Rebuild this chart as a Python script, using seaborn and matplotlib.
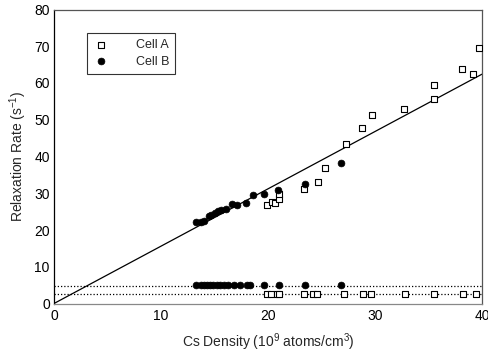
import matplotlib
matplotlib.use("Agg")
import matplotlib.pyplot as plt
import seaborn as sns
import numpy as np
import pandas as pd

# Cell A: relaxation rate vs Cs density (upper branch)
cell_a_density = [19.9, 20.4, 20.7, 21.0, 21.0, 23.4, 24.7, 25.3, 27.3,
                  28.8, 29.7, 32.7, 35.5, 35.5, 38.1, 39.2, 39.7]
cell_a_rate = [26.8, 27.6, 27.3, 28.4, 29.8, 31.1, 33.0, 37.0, 43.5,
               47.7, 51.2, 52.9, 55.6, 59.5, 63.9, 62.5, 69.5]

# Cell A: lower branch
cell_a_low_density = [19.9, 20.3, 20.8, 21.05, 23.4, 24.2, 24.6, 27.1,
                      28.9, 29.6, 32.8, 35.5, 38.25, 39.4]
cell_a_low_rate = [2.6] * len(cell_a_low_density)

# Cell B: relaxation rate vs Cs density (upper branch)
cell_b_density = [13.3, 13.7, 14.0, 14.5, 14.7, 15.0, 15.3, 15.6, 16.1,
                  16.6, 17.1, 17.9, 18.6, 19.65, 20.96, 23.5, 26.8]
cell_b_rate = [22.1, 22.2, 22.5, 23.9, 24.0, 24.6, 25.1, 25.5, 25.7,
               27.2, 26.9, 27.3, 29.4, 29.8, 30.9, 32.6, 38.2]

# Cell B: lower branch
cell_b_low_density = [13.3, 13.7, 14.0, 14.3, 14.6, 14.9, 15.2, 15.5,
                      15.9, 16.3, 16.8, 17.4, 18.0, 18.3, 19.65, 21.05,
                      23.5, 26.8]
cell_b_low_rate = [4.9] * len(cell_b_low_density)

# Linear fit through the origin and the two low-rate reference levels
fit_slope = 1.56
low_levels = [4.8, 2.45]

sns.set_theme(style="white")
plt.rcParams["font.family"] = ["Liberation Sans", "DejaVu Sans"]
plt.rcParams["mathtext.fontset"] = "custom"
plt.rcParams["mathtext.rm"] = "Liberation Sans"

fig = plt.figure(figsize=(4.88, 3.55), dpi=100)
ax = fig.add_axes([54 / 488, (355 - 303.5) / 355, 428 / 488, 294 / 355])

df_a = pd.DataFrame({"density": cell_a_density + cell_a_low_density,
                     "rate": cell_a_rate + cell_a_low_rate})
df_b = pd.DataFrame({"density": cell_b_density + cell_b_low_density,
                     "rate": cell_b_rate + cell_b_low_rate})

xs = np.array([0, 40])
sns.lineplot(x=xs, y=fit_slope * xs, ax=ax, color="black", lw=0.9, zorder=2)
for lvl in low_levels:
    ax.axhline(lvl, color="black", lw=0.9, ls=(0, (1, 1.6)), zorder=1)

sns.scatterplot(data=df_a, x="density", y="rate", ax=ax, marker="s",
                s=20, facecolor="white", edgecolor="black", linewidth=0.8,
                label="Cell A", zorder=3)
sns.scatterplot(data=df_b, x="density", y="rate", ax=ax, marker="o",
                s=24, color="black", edgecolor="black", linewidth=0.5,
                label="Cell B", zorder=4)

ax.set_xlim(0, 40)
ax.set_ylim(0, 80)
ax.set_xticks([0, 10, 20, 30, 40])
ax.set_yticks(range(0, 81, 10))
ax.tick_params(direction="in", length=3, width=0.8, labelsize=10,
               colors="black", pad=4)
ax.tick_params(axis="y", pad=3)
for side, sp in ax.spines.items():
    sp.set_visible(True)
    sp.set_color("black")
    sp.set_linewidth(0.9)
ax.spines["bottom"].set_color("#888888")
ax.spines["right"].set_color("#555555")
ax.spines["top"].set_color("#555555")

ax.set_xlabel("Cs Density (10$^9$ atoms/cm$^3$)", fontsize=10, labelpad=6)
ax.set_ylabel("Relaxation Rate (s$^{-1}$)", fontsize=10, labelpad=4)

leg = ax.legend(loc="upper left", bbox_to_anchor=(0.077, 0.92),
                fontsize=9, frameon=True, fancybox=False, borderpad=0.5,
                handletextpad=2.2, labelspacing=0.35, handlelength=1.2,
                borderaxespad=0)
leg.get_frame().set_edgecolor("black")
leg.get_frame().set_linewidth(0.8)

fig.savefig("out.png", dpi=100)
